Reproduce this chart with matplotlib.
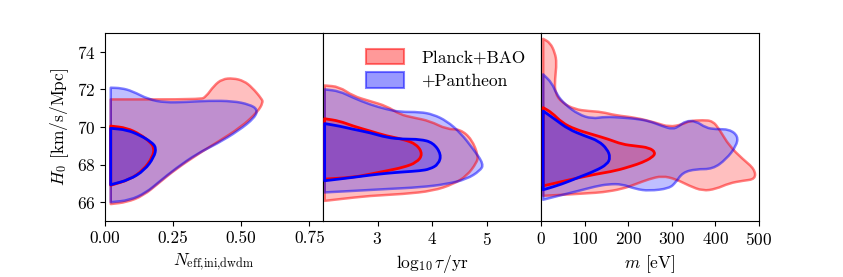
import matplotlib
matplotlib.use("Agg")
import matplotlib.pyplot as plt
from matplotlib.patches import PathPatch, Patch
from matplotlib.path import Path

plt.rcParams['font.family'] = 'serif'
plt.rcParams['font.serif'] = ['cmr10', 'DejaVu Serif']
plt.rcParams['mathtext.fontset'] = 'cm'
plt.rcParams['axes.formatter.use_mathtext'] = True
plt.rcParams['font.size'] = 12.5

# ---------------- data: contour boundaries (x, H0) ----------------
# Panel 1: N_eff,ini,dwdm
p1_red_95_x = [0.021, 0.35, 0.37, 0.40, 0.43, 0.47, 0.51, 0.54, 0.575, 0.58, 0.56, 0.50, 0.41, 0.35, 0.26, 0.20, 0.14, 0.08, 0.021]
p1_red_95_y = [71.47, 71.47, 71.6, 72.2, 72.55, 72.6, 72.45, 72.1, 71.5, 71.3, 70.8, 70.0, 69.17, 68.64, 67.76, 67.05, 66.34, 66.0, 65.9]
p1_red_68_x = [0.021, 0.08, 0.13, 0.165, 0.181, 0.175, 0.14, 0.09, 0.021]
p1_red_68_y = [70.05, 69.95, 69.6, 69.2, 68.9, 68.4, 67.7, 67.2, 66.9]
p1_blue_95_x = [0.021, 0.06, 0.10, 0.16, 0.22, 0.30, 0.38, 0.47, 0.53, 0.56, 0.55, 0.49, 0.41, 0.34, 0.26, 0.20, 0.15, 0.09, 0.021]
p1_blue_95_y = [72.09, 72.07, 71.91, 71.47, 71.3, 71.33, 71.4, 71.38, 71.2, 70.94, 70.5, 69.8, 69.1, 68.6, 67.8, 67.1, 66.5, 66.1, 66.0]
p1_blue_68_x = [0.021, 0.08, 0.13, 0.17, 0.188, 0.18, 0.145, 0.09, 0.021]
p1_blue_68_y = [69.93, 69.85, 69.55, 69.2, 68.9, 68.4, 67.7, 67.2, 66.93]

# Panel 2: log10 tau / yr
p2_red_95_x = [2.03, 2.3, 2.55, 2.86, 3.17, 3.41, 3.66, 3.96, 4.27, 4.52, 4.73, 4.85, 4.82, 4.64, 4.39, 4.02, 3.47, 2.86, 2.3, 2.03]
p2_red_95_y = [72.21, 72.14, 71.65, 71.38, 71.11, 70.67, 70.5, 70.32, 69.88, 69.88, 69.35, 68.46, 68.1, 67.4, 66.96, 66.6, 66.43, 66.34, 66.16, 66.07]
p2_red_68_x = [2.03, 2.3, 2.55, 2.86, 3.17, 3.47, 3.72, 3.83, 3.72, 3.47, 3.17, 2.86, 2.55, 2.03]
p2_red_68_y = [70.44, 70.32, 70.05, 69.79, 69.52, 69.35, 69.08, 68.55, 68.11, 67.85, 67.67, 67.49, 67.32, 67.23]
p2_blue_95_x = [2.03, 2.3, 2.55, 2.86, 3.17, 3.41, 3.78, 4.02, 4.27, 4.52, 4.76, 4.95, 4.88, 4.64, 4.27, 3.78, 3.17, 2.55, 2.03]
p2_blue_95_y = [72.0, 71.91, 71.56, 71.2, 70.94, 70.8, 70.8, 70.67, 70.32, 69.7, 68.82, 68.02, 67.67, 67.23, 66.96, 66.79, 66.7, 66.6, 66.52]
p2_blue_68_x = [2.03, 2.3, 2.55, 2.86, 3.17, 3.47, 3.78, 4.02, 4.17, 4.12, 3.96, 3.78, 3.47, 3.17, 2.86, 2.55, 2.03]
p2_blue_68_y = [70.18, 70.05, 69.88, 69.7, 69.44, 69.35, 69.35, 69.17, 68.55, 68.02, 67.76, 67.67, 67.61, 67.54, 67.44, 67.32, 67.14]

# Panel 3: m [eV]
p3_red_95_x = [5, 21, 32, 36, 32, 32, 48, 78, 109, 140, 171, 217, 263, 294, 325, 340, 371, 394, 409, 432, 463, 490, 492, 463, 432, 401, 371, 340, 309, 278, 248, 217, 186, 140, 109, 78, 5]
p3_red_95_y = [74.69, 74.48, 73.95, 73.41, 72.53, 71.82, 71.29, 70.94, 70.85, 70.8, 70.62, 70.5, 70.23, 70.0, 70.14, 70.32, 70.37, 70.32, 69.88, 68.99, 68.29, 67.76, 67.23, 67.14, 67.01, 66.7, 66.6, 66.87, 67.23, 67.4, 67.23, 66.96, 66.7, 66.52, 66.48, 66.43, 66.34]
p3_red_68_x = [5, 25, 48, 78, 117, 155, 186, 217, 248, 263, 255, 232, 209, 171, 125, 78, 32, 5]
p3_red_68_y = [71.03, 70.76, 70.23, 69.88, 69.61, 69.35, 69.08, 68.99, 68.9, 68.64, 68.38, 68.11, 67.93, 67.67, 67.49, 67.26, 67.01, 66.87]
p3_blue_95_x = [5, 25, 36, 55, 86, 117, 148, 186, 217, 248, 278, 302, 317, 332, 355, 378, 401, 432, 452, 448, 425, 394, 355, 325, 309, 294, 248, 217, 186, 155, 125, 86, 40, 5]
p3_blue_95_y = [72.8, 72.35, 71.73, 71.2, 70.67, 70.44, 70.55, 70.5, 70.44, 70.32, 70.05, 69.88, 70.05, 70.32, 70.32, 69.96, 69.88, 69.88, 69.52, 68.99, 68.29, 67.76, 67.76, 67.58, 67.05, 66.73, 66.6, 66.7, 66.96, 66.96, 66.84, 66.6, 66.34, 66.13]
p3_blue_68_x = [5, 32, 63, 101, 132, 152, 159, 152, 125, 86, 48, 5]
p3_blue_68_y = [70.85, 70.41, 69.88, 69.52, 69.26, 68.82, 68.38, 68.02, 67.67, 67.32, 66.96, 66.66]

labels = ['Planck+BAO', '+Pantheon']
colors = ['red', 'blue']
xlabels = [r'$N_{\rm eff{,}ini{,}dwdm}$', r'$\log_{10}\tau/{\rm yr}$', r'$m$ [eV]']
xlims = [(0, 0.8), (2, 6), (0, 500)]
xticks = [[0, 0.25, 0.5, 0.75], [3, 4, 5], [0, 100, 200, 300, 400, 500]]
yticks = [66, 68, 70, 72, 74]

panels = [
    [(p1_red_95_x, p1_red_95_y, p1_red_68_x, p1_red_68_y), (p1_blue_95_x, p1_blue_95_y, p1_blue_68_x, p1_blue_68_y)],
    [(p2_red_95_x, p2_red_95_y, p2_red_68_x, p2_red_68_y), (p2_blue_95_x, p2_blue_95_y, p2_blue_68_x, p2_blue_68_y)],
    [(p3_red_95_x, p3_red_95_y, p3_red_68_x, p3_red_68_y), (p3_blue_95_x, p3_blue_95_y, p3_blue_68_x, p3_blue_68_y)],
]


def smooth_path(xs, ys):
    """Closed path: rounded (quadratic Bezier) along the read vertices,
    straight closing edge at the prior boundary."""
    pts = list(zip(xs, ys))
    n = len(pts)
    verts = [pts[0]]
    codes = [Path.MOVETO]
    mid = lambda a, b: ((a[0] + b[0]) / 2, (a[1] + b[1]) / 2)
    verts.append(mid(pts[0], pts[1]))
    codes.append(Path.LINETO)
    for i in range(1, n - 1):
        verts += [pts[i], mid(pts[i], pts[i + 1])]
        codes += [Path.CURVE3, Path.CURVE3]
    verts.append(pts[-1])
    codes.append(Path.LINETO)
    verts.append(pts[0])
    codes.append(Path.CLOSEPOLY)
    return Path(verts, codes)


fig = plt.figure(figsize=(8.43, 2.77), dpi=100)
left, bottom, w, h = 105 / 843, 1 - 221 / 277, 218 / 843, 188 / 277
axes = [fig.add_axes([left + i * w, bottom, w, h]) for i in range(3)]

for i, ax in enumerate(axes):
    for c, (x95, y95, x68, y68) in zip(colors, panels[i]):
        ax.add_patch(PathPatch(smooth_path(x95, y95), facecolor=c, alpha=0.25, edgecolor='none', zorder=1))
        ax.add_patch(PathPatch(smooth_path(x68, y68), facecolor=c, alpha=0.25, edgecolor='none', zorder=1))
    for c, (x95, y95, x68, y68) in zip(colors, panels[i]):
        ax.add_patch(PathPatch(smooth_path(x95, y95), fill=False, edgecolor=c, alpha=0.5, lw=1.8,
                               joinstyle='round', zorder=2))
    for c, (x95, y95, x68, y68) in zip(colors, panels[i]):
        ax.add_patch(PathPatch(smooth_path(x68, y68), fill=False, edgecolor=c, alpha=1.0, lw=2.0,
                               joinstyle='round', zorder=3))
    ax.set_xlim(*xlims[i])
    ax.set_ylim(65, 75)
    ax.set_xticks(xticks[i])
    ax.set_xlabel(xlabels[i])
    ax.set_yticks(yticks)
    if i > 0:
        ax.tick_params(axis='y', left=False, labelleft=False)

axes[0].xaxis.set_major_formatter(matplotlib.ticker.FormatStrFormatter('%.2f'))
axes[0].set_ylabel(r'$H_0$ [km/s/Mpc]')

handles = [Patch(facecolor=(1, 0, 0, 0.4), edgecolor=(1, 0, 0, 0.5), lw=1.5),
           Patch(facecolor=(0, 0, 1, 0.4), edgecolor=(0, 0, 1, 0.5), lw=1.5)]
axes[1].legend(handles, labels, loc='upper right', frameon=False, fontsize=12.5,
               bbox_to_anchor=(1.0, 1.0), handlelength=2.2, handleheight=1.0,
               handletextpad=1.0, labelspacing=0.4)

fig.savefig('out.png', dpi=100)
